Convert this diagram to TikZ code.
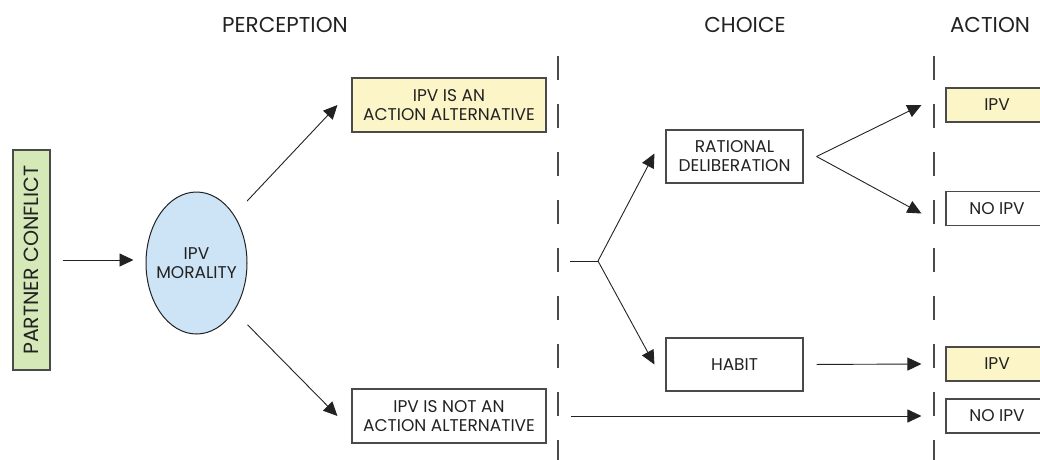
\documentclass[tikz,border=0pt]{standalone}
\usepackage{fontspec}
\setmainfont{Poppins}
\usetikzlibrary{arrows.meta,calc,shapes.geometric}
\definecolor{boxline}{HTML}{4A4A4A}
\definecolor{yel}{HTML}{FBF5C8}
\definecolor{grn}{HTML}{D5E8B8}
\definecolor{blu}{HTML}{CCE4F6}
\definecolor{ink}{HTML}{222222}
\tikzset{
  box/.style={draw=boxline, line width=1.1pt, minimum width=194pt, minimum height=54pt, align=center, inner sep=0pt, font=\fontsize{17}{19}\selectfont, text=ink},
  sbox/.style={box, minimum width=137pt, minimum height=53pt},
  abox/.style={box, minimum width=102pt, minimum height=34pt},
  hdr/.style={font=\fontsize{21.5}{24}\selectfont, text=ink, inner sep=0pt},
  arr/.style={draw=ink, line width=0.9pt, -{Triangle[length=14pt,width=13pt]}},
  ln/.style={draw=ink, line width=0.9pt},
  dsh/.style={draw=boxline, line width=1.2pt, dash pattern=on 24pt off 24pt},
}
\begin{document}
\begin{tikzpicture}[x=1pt,y=-1pt]
\useasboundingbox (0,0) rectangle (1040,459);
% headers
\node[hdr] (hperc) at (285,25) {PERCEPTION};
\node[hdr] (hchoice) at (745,25) {CHOICE};
\node[hdr] (haction) at (990,25) {ACTION};
% dashed lines
\coordinate (d1t) at (558,56); \coordinate (d1b) at (558,470);
\coordinate (d2t) at (934,56); \coordinate (d2b) at (934,470);
\draw[dsh] (d1t) -- (d1b);
\draw[dsh] (d2t) -- (d2b);
% nodes
\node[draw=boxline, fill=grn, line width=1.1pt, minimum width=220pt, minimum height=37pt, inner sep=0pt, rotate=90, font=\fontsize{20.5}{24}\selectfont, text=ink] (pc) at (31.5,260) {PARTNER CONFLICT};
\node[ellipse, draw=ink, fill=blu, line width=1pt, minimum width=101pt, minimum height=142pt, inner sep=0pt] (ipv) at (196.5,263) {};
\node[align=center, inner sep=0pt, font=\fontsize{17}{19}\selectfont, text=ink] (ipvt) at (ipv.center) {IPV\\MORALITY};
\node[box, fill=yel] (alt) at (449,105) {IPV IS AN\\ACTION ALTERNATIVE};
\node[box] (notalt) at (449,416) {IPV IS NOT AN\\ACTION ALTERNATIVE};
\node[sbox] (rd) at (734.5,156.5) {RATIONAL\\DELIBERATION};
\node[sbox] (hab) at (734.5,364.5) {HABIT};
\node[abox, fill=yel] (a1) at (997,105) {IPV};
\node[abox] (a2) at (997,208.5) {NO IPV};
\node[abox, fill=yel] (a3) at (997,364) {IPV};
\node[abox] (a4) at (997,416) {NO IPV};
% connectors
\draw[arr] ([xshift=12pt]pc.south) -- ([xshift=-12pt]pc.south -| ipv.west);
\draw[arr, shorten <=19pt] (ipv.52) -- ([xshift=-14pt]alt.west);
\draw[arr, shorten <=19pt] (ipv.-52) -- ([xshift=-14pt]notalt.west);
\coordinate (st) at (570,261);
\coordinate (br) at (598,261);
\draw[ln] (st) -- (br);
\draw[arr] (br) -- ([xshift=-11pt,yshift=3pt]rd.west);
\draw[arr] (br) -- ([xshift=-11pt]hab.west);
\coordinate (rdo) at ($(rd.east)+(13,0)$);
\draw[arr] (rdo) -- ([xshift=-24pt]a1.west);
\draw[arr] (rdo) -- ([xshift=-24pt,yshift=-5pt]a2.west);
\draw[arr, shorten <=13pt] (hab.east) -- ([xshift=-24pt]a3.west);
\draw[arr, shorten <=24pt] (notalt.east) -- ([xshift=-24pt]a4.west);
\end{tikzpicture}
\end{document}
